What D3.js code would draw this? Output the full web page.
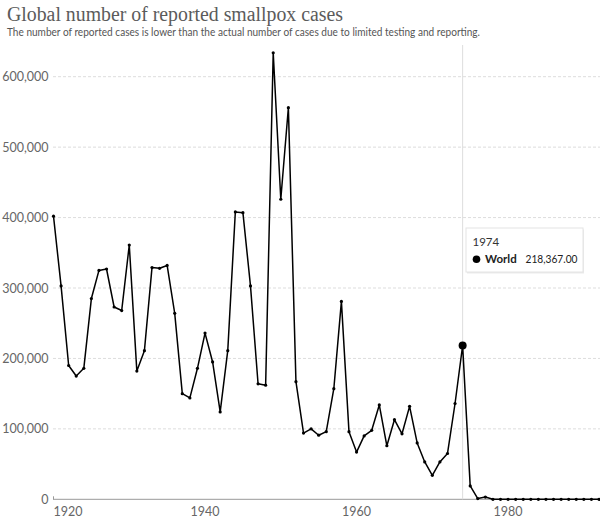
<!DOCTYPE html>
<html lang="en">
  <head>
    <meta charset="UTF-8" />
    <title>Global number of reported smallpox cases</title>
    <script src="https://d3js.org/d3.v7.min.js"></script>
    <style>
      body { margin: 0; background: #fff; }
      svg { display: block; font-family: Lato, "Open Sans", sans-serif; }
    </style>
  </head>
  <body>
    <svg width="600" height="524"></svg>
    <script>
      // data
      let years = [
        1920, 1921, 1922, 1923, 1924, 1925, 1926, 1927, 1928, 1929,
        1930, 1931, 1932, 1933, 1934, 1935, 1936, 1937, 1938, 1939,
        1940, 1941, 1942, 1943, 1944, 1945, 1946, 1947, 1948, 1949,
        1950, 1951, 1952, 1953, 1954, 1955, 1956, 1957, 1958, 1959,
        1960, 1961, 1962, 1963, 1964, 1965, 1966, 1967, 1968, 1969,
        1970, 1971, 1972, 1973, 1974, 1975, 1976, 1977, 1978, 1979,
        1980, 1981, 1982, 1983, 1984, 1985, 1986, 1987, 1988, 1989,
        1990, 1991, 1992
      ];
      let cases = [
        402000, 303000, 190000, 175000, 186000, 285000, 325000, 327000, 273000, 268000,
        361000, 182000, 211000, 329000, 328000, 332000, 264000, 150000, 144000, 186000,
        236000, 195000, 124000, 211000, 408000, 407000, 303000, 164000, 162000, 634000,
        426000, 556000, 167000, 94000, 100000, 91000, 96000, 157000, 281000, 96000,
        67000, 90000, 98000, 134000, 76000, 113000, 93000, 132000, 80000, 53000,
        34000, 53000, 65000, 136000, 218367, 19000, 1000, 3200, 0, 0,
        0, 0, 0, 0, 0, 0, 0, 0, 0, 0,
        0, 0, 0
      ];
      let yTicks = [0, 100000, 200000, 300000, 400000, 500000, 600000];
      let xTicks = [1920, 1940, 1960, 1980];
      let hoverYear = 1974;
      let seriesName = "World";

      let title = "Global number of reported smallpox cases";
      let subtitle =
        "The number of reported cases is lower than the actual number of cases due to limited testing and reporting.";

      let data = years.map((y, i) => ({ year: y, value: cases[i] }));

      let svg = d3.select("svg");

      let x = d3.scaleLinear().domain([1920, 1992]).range([53.5, 599]);
      let y = d3.scaleLinear().domain([0, 600000]).range([499.3, 76.7]);

      // Title + subtitle
      svg
        .append("text")
        .attr("x", 7)
        .attr("y", 21)
        .attr("font-family", "'Liberation Serif', 'DejaVu Serif', serif")
        .attr("font-size", 20)
        .attr("fill", "#5b5b5b")
        .attr("textLength", 336)
        .attr("lengthAdjust", "spacingAndGlyphs")
        .text(title);

      svg
        .append("text")
        .attr("x", 7)
        .attr("y", 36)
        .attr("font-size", 10.5)
        .attr("fill", "#555")
        .attr("textLength", 473)
        .attr("lengthAdjust", "spacingAndGlyphs")
        .text(subtitle);

      // Y grid + labels
      let grid = svg.append("g").attr("id", "grid");
      grid
        .selectAll("line")
        .data(yTicks.filter((d) => d > 0))
        .enter()
        .append("line")
        .attr("x1", 53)
        .attr("x2", 600)
        .attr("y1", (d) => y(d))
        .attr("y2", (d) => y(d))
        .attr("stroke", "#ddd")
        .attr("stroke-dasharray", "3,2");

      grid
        .selectAll("text")
        .data(yTicks)
        .enter()
        .append("text")
        .attr("x", 48.5)
        .attr("y", (d) => y(d) + 4.5)
        .attr("text-anchor", "end")
        .attr("font-size", 12.5)
        .attr("fill", "#666")
        .text((d) => d3.format(",")(d));

      // X axis
      svg
        .append("line")
        .attr("x1", 53)
        .attr("x2", 600)
        .attr("y1", y(0))
        .attr("y2", y(0))
        .attr("stroke", "#999");

      svg
        .append("line")
        .attr("x1", 53.5)
        .attr("x2", 53.5)
        .attr("y1", y(0) - 3)
        .attr("y2", y(0))
        .attr("stroke", "#999");

      svg
        .append("g")
        .selectAll("text")
        .data(xTicks)
        .enter()
        .append("text")
        .attr("x", (d) => x(d))
        .attr("y", 516)
        .attr("text-anchor", (d) => (d === xTicks[0] ? "start" : "middle"))
        .attr("font-size", 12.5)
        .attr("fill", "#666")
        .text((d) => d);

      // hover line
      svg
        .append("line")
        .attr("x1", x(hoverYear))
        .attr("x2", x(hoverYear))
        .attr("y1", 45)
        .attr("y2", y(0))
        .attr("stroke", "#ddd");

      // the series
      let line = d3
        .line()
        .x((d) => x(d.year))
        .y((d) => y(d.value));

      svg
        .append("path")
        .datum(data)
        .attr("d", line)
        .attr("fill", "none")
        .attr("stroke", "#000")
        .attr("stroke-width", 1.5)
        .attr("stroke-linejoin", "round");

      svg
        .append("g")
        .selectAll("circle")
        .data(data)
        .enter()
        .append("circle")
        .attr("cx", (d) => x(d.year))
        .attr("cy", (d) => y(d.value))
        .attr("r", 1.6)
        .attr("fill", "#000");

      let hovered = data.find((d) => d.year === hoverYear);
      svg
        .append("circle")
        .attr("cx", x(hovered.year))
        .attr("cy", y(hovered.value))
        .attr("r", 4)
        .attr("fill", "#000");

      // tooltip
      let tip = svg.append("g").attr("transform", "translate(466,228)");
      tip
        .append("rect")
        .attr("x", 1)
        .attr("y", 1.5)
        .attr("width", 117)
        .attr("height", 44)
        .attr("fill", "#000")
        .attr("opacity", 0.08);
      tip
        .append("rect")
        .attr("width", 117)
        .attr("height", 44)
        .attr("fill", "#fff")
        .attr("stroke", "#e4e4e4");
      tip
        .append("text")
        .attr("x", 6.5)
        .attr("y", 18)
        .attr("font-size", 11.5)
        .attr("fill", "#333")
        .text(hoverYear);
      tip
        .append("circle")
        .attr("cx", 10.5)
        .attr("cy", 31.3)
        .attr("r", 3.8)
        .attr("fill", "#000");
      tip
        .append("text")
        .attr("x", 19)
        .attr("y", 35.3)
        .attr("font-size", 11.5)
        .attr("font-weight", "bold")
        .attr("fill", "#222")
        .text(seriesName);
      tip
        .append("text")
        .attr("x", 111.5)
        .attr("y", 35.3)
        .attr("text-anchor", "end")
        .attr("font-size", 11)
        .attr("fill", "#222")
        .attr("textLength", 52)
        .attr("lengthAdjust", "spacingAndGlyphs")
        .text(d3.format(",.2f")(hovered.value));
    </script>
  </body>
</html>
